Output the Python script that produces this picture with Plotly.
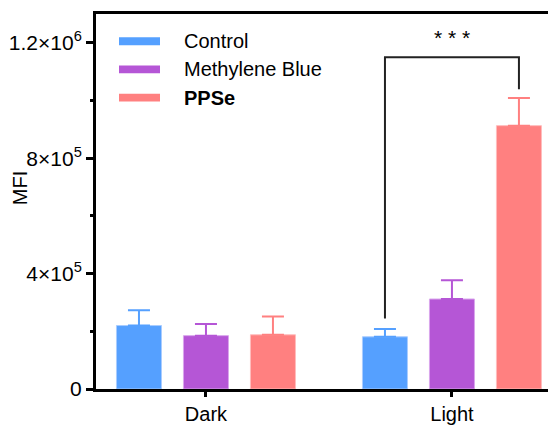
import plotly.graph_objects as go

categories = ["Dark", "Light"]
series_names = ["Control", "Methylene Blue", "PPSe"]
control = [220000, 181000]
control_err = [53000, 27000]
mb = [185000, 312000]
mb_err = [40000, 65000]
ppse = [188000, 913000]
ppse_err = [63000, 96000]
colors = ["#55A0FF", "#B556D6", "#FF8080"]
edge_colors = ["#A9CCFF", "#D9A6EC", "#FFBDBD"]

ytick_vals = [0, 400000, 800000, 1200000]
ytick_text = ["0", "4×10<sup>5</sup>", "8×10<sup>5</sup>", "1.2×10<sup>6</sup>"]

sig_text = "* * *"
sig_y = 1150000

FONT = "Liberation Sans, Arial, sans-serif"
OFF = 8  # page body margin
W, H = 556 - OFF, 425 - OFF
# target page coordinates of plot area: x 96..556, y 14..393
ML, MR, MT, MB_ = 96 - OFF, 0, 14 - OFF, 32
PW, PH = W - ML - MR, H - MT - MB_

bargap = 0.183
bargroupgap = 0.328

fig = go.Figure()
vals = [control, mb, ppse]
errs = [control_err, mb_err, ppse_err]
for name, v, e, c, ec in zip(series_names, vals, errs, colors, edge_colors):
    fig.add_trace(go.Bar(
        x=categories, y=v, name=name,
        marker=dict(color=c, line=dict(color=ec, width=1)),
        error_y=dict(type="data", array=e, symmetric=False, arrayminus=[0] * len(e),
                     color=c, thickness=2, width=11),
        showlegend=False,
    ))

# significance bracket between Control and PPSe in "Light"
slot = (1 - bargap) / 3
x_left = 1 - slot
x_right = 1 + slot
left_bottom = control[1] + control_err[1] + 36000
right_bottom = ppse[1] + ppse_err[1] + 30000
fig.add_shape(type="path",
              path=f"M {x_left} {left_bottom} L {x_left} {sig_y} L {x_right} {sig_y} L {x_right} {right_bottom}",
              xref="x", yref="y", line=dict(color="#222222", width=2))
fig.add_annotation(x=1, y=sig_y, xref="x", yref="y", text=sig_text, showarrow=False,
                   yanchor="bottom", yshift=6, font=dict(family=FONT, size=21, color="black"))

# manual legend (page pixel -> paper coords)
def px_x(p):
    return (p - OFF - ML) / PW
def px_y(p):
    return (H - MB_ - (p - OFF)) / PH

leg_y = [41.5, 70, 98.5]
for i, (name, c) in enumerate(zip(series_names, colors)):
    fig.add_shape(type="rect", xref="paper", yref="paper",
                  x0=px_x(119), x1=px_x(160), y0=px_y(leg_y[i] + 4), y1=px_y(leg_y[i] - 4),
                  fillcolor=c, line=dict(width=0))
    fig.add_annotation(xref="paper", yref="paper", x=px_x(182), y=px_y(leg_y[i]),
                       text=("<b>%s</b>" % name) if name == "PPSe" else name,
                       xanchor="left", yanchor="middle", showarrow=False,
                       font=dict(family=FONT, size=20, color="black"))

fig.add_annotation(xref="paper", yref="paper", x=px_x(20), y=px_y(190), text="MFI",
                   textangle=-90, showarrow=False, xanchor="center", yanchor="middle",
                   font=dict(family=FONT, size=20, color="black"))

fig.update_layout(
    width=W, height=H,
    margin=dict(l=ML, r=MR, t=MT, b=MB_),
    paper_bgcolor="white", plot_bgcolor="white",
    barmode="group", bargap=bargap, bargroupgap=bargroupgap,
    font=dict(family=FONT, size=20, color="black"),
    xaxis=dict(type="category", range=[-0.447, 1.423], showline=True, linecolor="black",
               linewidth=3, mirror=True, ticks="outside", ticklen=5, tickwidth=3,
               tickcolor="black", showgrid=False, zeroline=False,
               tickfont=dict(family=FONT, size=20)),
    yaxis=dict(range=[0, 1300000], showline=True, linecolor="black", linewidth=3,
               ticks="outside", ticklen=7, tickwidth=3, tickcolor="black",
               tickvals=ytick_vals, ticktext=ytick_text, showgrid=False, zeroline=False,
               tickfont=dict(family=FONT, size=21),
               minor=dict(tickvals=[200000, 600000, 1000000], ticks="outside", ticklen=3,
                          tickwidth=3, tickcolor="black")),
)

fig.write_html("out.html")
